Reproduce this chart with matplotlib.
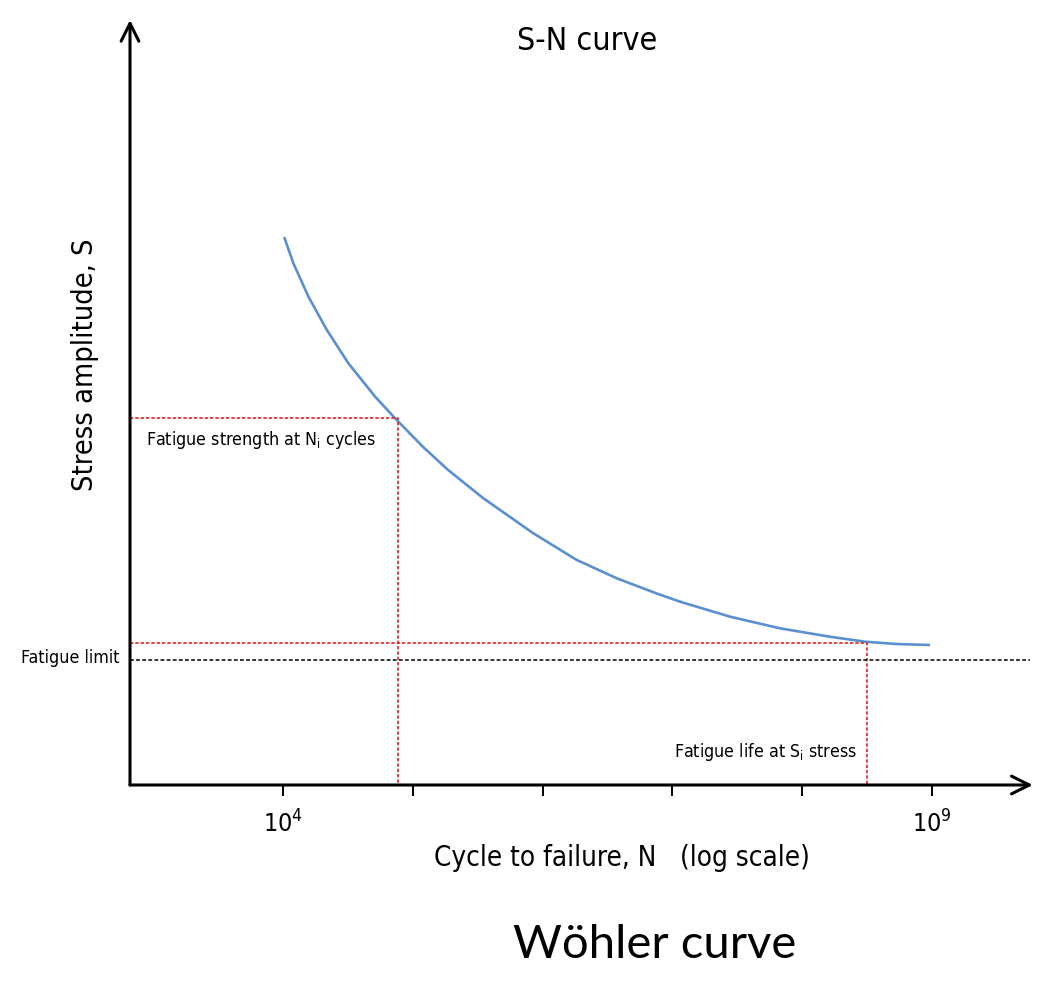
import matplotlib
matplotlib.use('Agg')
import matplotlib.pyplot as plt
import numpy as np

# --- dados ---
# expoente de N (log10) e amplitude de tensao S (unidades arbitrarias, 0-100)
log_n = [4.008, 4.079, 4.195, 4.337, 4.503, 4.709, 4.863, 5.079, 5.271, 5.543,
         5.928, 6.263, 6.571, 6.879, 7.059, 7.444, 7.829, 8.214, 8.484, 8.728, 8.985]
stress = [71.63, 68.20, 63.83, 59.48, 55.12, 50.76, 47.93, 44.18, 41.18, 37.48,
          32.90, 29.41, 27.02, 25.03, 23.96, 22.00, 20.48, 19.38, 18.73, 18.43, 18.30]

fatigue_limit = 16.3
n1_exp, s_at_n1 = 4.886, 48.0      # resistencia a fadiga em N1 ciclos
n_at_s1_exp, s1 = 8.499, 18.56     # vida a fadiga na tensao S1

tick_exps = [4, 5, 6, 7, 8, 9]
tick_labels = [r'$10^4$', '', '', '', '', r'$10^9$']
x_range = (2.82, 9.755)
y_range = (0, 100)
# ----------------------------

FONT = ['Liberation Sans Narrow', 'DejaVu Sans']
plt.rcParams['font.family'] = FONT
plt.rcParams['font.stretch'] = 'condensed'
plt.rcParams['mathtext.fontset'] = 'custom'
plt.rcParams['mathtext.rm'] = 'Liberation Sans Narrow'

W, H = 1056, 991
fig = plt.figure(figsize=(W / 100, H / 100), dpi=100)
ax = fig.add_axes([130 / W, 206 / H, 900 / W, 765 / H])
ax.set_xscale('log')
ax.set_xlim(10 ** x_range[0], 10 ** x_range[1])
ax.set_ylim(*y_range)
for s in ax.spines.values():
    s.set_visible(False)

N = 10 ** np.array(log_n)
ax.plot(N, stress, color='#5b8fd2', lw=1.9, solid_capstyle='butt', solid_joinstyle='round')

red = '#e02424'
ax.plot([10 ** x_range[0], 10 ** n1_exp, 10 ** n1_exp], [s_at_n1, s_at_n1, 0],
        color=red, lw=1.2, dashes=(2, 1.2))
ax.plot([10 ** x_range[0], 10 ** n_at_s1_exp, 10 ** n_at_s1_exp], [s1, s1, 0],
        color=red, lw=1.2, dashes=(2, 1.2))
ax.plot([10 ** x_range[0], 10 ** x_range[1]], [fatigue_limit, fatigue_limit],
        color='black', lw=1.1, dashes=(2.5, 1.5))

# eixos com setas
ax.annotate('', xy=(0, 1.0), xytext=(0, 0), xycoords='axes fraction',
            arrowprops=dict(arrowstyle='->', lw=2.2, mutation_scale=32, shrinkA=0, shrinkB=0),
            annotation_clip=False)
ax.annotate('', xy=(1.003, 0), xytext=(0, 0), xycoords='axes fraction',
            arrowprops=dict(arrowstyle='->', lw=2.2, mutation_scale=32, shrinkA=0, shrinkB=0),
            annotation_clip=False)

ax.set_xticks([10 ** e for e in tick_exps])
ax.set_xticklabels(tick_labels)
ax.minorticks_off()
ax.tick_params(axis='x', length=8, width=1.4, pad=10, labelsize=18)
ax.set_yticks([])

fig.text(587 / W, 1 - 42 / H, 'S-N curve', fontsize=23, ha='center', va='center')
fig.text(622 / W, 1 - 858 / H, 'Cycle to failure, N   (log scale)', fontsize=20,
         ha='center', va='center')
fig.text(85 / W, 1 - 365 / H, 'Stress amplitude, S', fontsize=20.8, rotation=90,
         ha='center', va='center')

ax.text(10 ** 2.94, s_at_n1 - 2.9, r'Fatigue strength at N$_\mathregular{i}$ cycles',
        fontsize=12.8, va='center', ha='left')
ax.text(10 ** 8.42, 4.3, r'Fatigue life at S$_\mathregular{i}$ stress',
        fontsize=12.8, va='center', ha='right')
ax.text(-0.012, fatigue_limit + 0.3, 'Fatigue limit', transform=ax.get_yaxis_transform(),
        fontsize=12.8, va='center', ha='right')

fig.text(655 / W, 1 - 945 / H, 'Wöhler curve', family='Lato', stretch='normal',
         fontsize=34, ha='center', va='center')

fig.savefig('out.png', dpi=100)
